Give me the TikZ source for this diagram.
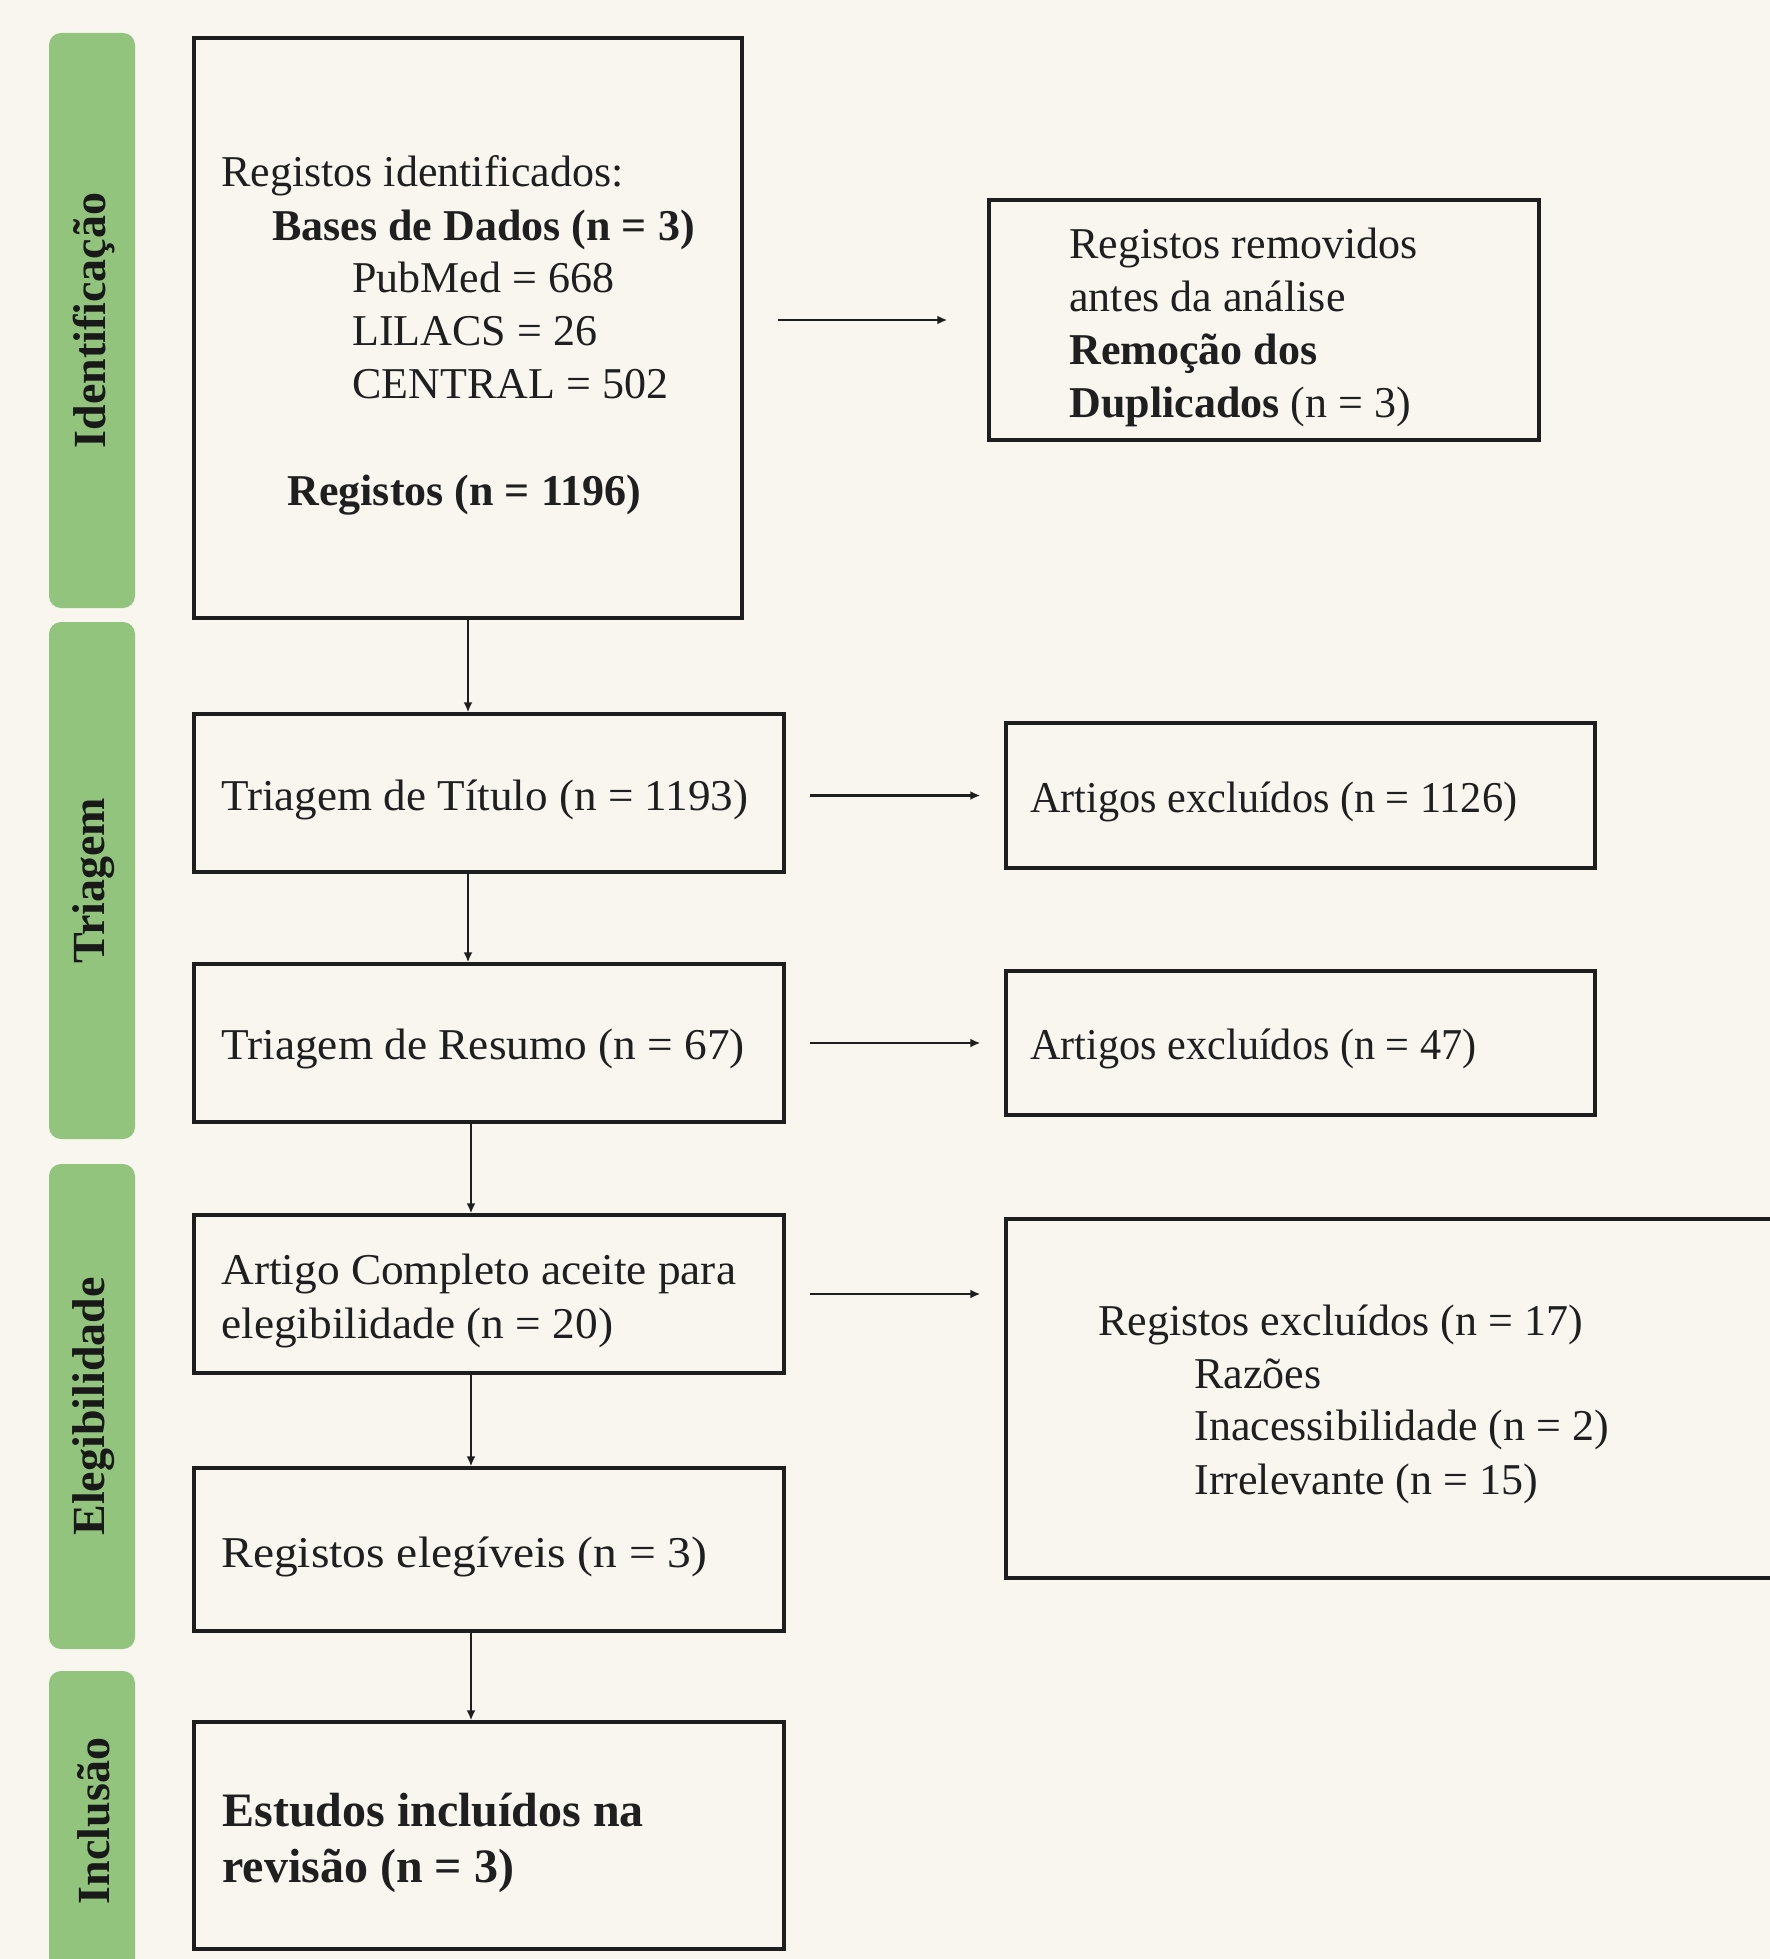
\documentclass[tikz,border=0pt]{standalone}
\usepackage{fontspec}
\usepackage{graphicx}
\setmainfont{Liberation Serif}
\usetikzlibrary{arrows.meta,calc}
\definecolor{bg}{HTML}{F8F6EE}
\definecolor{bargreen}{HTML}{92C47E}
\definecolor{edge}{HTML}{1E1E1E}
\begin{document}
\begin{tikzpicture}[x=0.5pt,y=-0.5pt,
  box/.style={draw=edge, line width=1.7pt, fill=bg, inner sep=0pt},
  bar/.style={fill=bargreen, rounded corners=6pt, inner sep=0pt, minimum width=43pt},
  lbl/.style={rotate=90, inner sep=0pt, font=\fontsize{23}{27}\selectfont\bfseries, text=black!90},
  txt/.style={anchor=base west, inner sep=0pt, font=\fontsize{22}{26.5}\selectfont, text=black!88},
  btxt/.style={txt, font=\fontsize{24}{28}\selectfont\bfseries},
  arr/.style={draw=edge, line width=1.3pt, -{Latex[length=5pt,width=4.5pt]}}]
\clip (0,0) rectangle (1770,1959);
\fill[bg] (0,0) rectangle (1770,1959);
% side bars
\node[bar, minimum height=287.5pt] (barI) at (92,320.5) {};
\node[bar, minimum height=258.5pt] (barT) at (92,880.5) {};
\node[bar, minimum height=242.5pt] (barE) at (92,1406.5) {};
\node[bar, minimum height=160pt] (barN) at (92,1831) {};
\node[lbl] (lblI) at ($(barI.center)+(2,0)$) {Identificação};
\node[lbl] (lblT) at ($(barT.center)+(2,0)$) {Triagem};
\node[lbl] (lblE) at ($(barE.center)+(2,0)$) {Elegibilidade};
\node[lbl] (lblN) at ($(barN.center)+(2,-10)$) {Inclusão};
% boxes
\node[box, minimum width=274pt, minimum height=290pt] (b1) at (468,328) {};
\node[box, minimum width=275pt, minimum height=120pt] (rem) at (1264,320) {};
\node[box, minimum width=295pt, minimum height=79pt] (t1) at (489,793) {};
\node[box, minimum width=294.5pt, minimum height=72.5pt] (ex1) at (1300.5,795.5) {};
\node[box, minimum width=295pt, minimum height=79pt] (r1) at (489,1043) {};
\node[box, minimum width=294.5pt, minimum height=72pt] (ex2) at (1300.5,1043) {};
\node[box, minimum width=295pt, minimum height=79pt] (art) at (489,1294) {};
\node[box, minimum width=397pt, minimum height=179.5pt] (rx) at (1403,1398.5) {};
\node[box, minimum width=295pt, minimum height=81.5pt] (el) at (489,1549.5) {};
\node[box, minimum width=295pt, minimum height=113.5pt] (inc) at (489,1835.5) {};
% texts box 1
\node[txt] (b1a) at (221,186) {Registos identificados:};
\node[txt, font=\fontsize{22}{26.5}\selectfont\bfseries] (b1b) at (272,240) {Bases de Dados (n = 3)};
\node[txt] (b1c) at (352,292) {PubMed = 668};
\node[txt] (b1d) at (352,345) {LILACS = 26};
\node[txt] (b1e) at (352,398) {CENTRAL = 502};
\node[txt, font=\fontsize{22}{26.5}\selectfont\bfseries] (b1f) at (287,505) {Registos (n = 1196)};
% removed box
\node[txt] (rema) at (1069,258.5) {Registos removidos};
\node[txt] (remb) at (1069,311.5) {antes da análise};
\node[txt] (remc) at (1069,364.5) {\bfseries Remoção dos};
\node[txt] (remd) at (1069,417.5) {\textbf{Duplicados} (n = 3)};
% screening
\node[txt] (t1a) at (221,810.5) {\scalebox{1.025}[1]{Triagem de Título (n = 1193)}};
\node[txt] (ex1a) at (1030,812.5) {\scalebox{0.96}[1]{Artigos excluídos (n = 1126)}};
\node[txt] (r1a) at (221,1059.5) {\scalebox{1.03}[1]{Triagem de Resumo (n = 67)}};
\node[txt] (ex2a) at (1030,1059.5) {\scalebox{0.96}[1]{Artigos excluídos (n = 47)}};
% eligibility
\node[txt] (arta) at (221,1284.5) {\scalebox{1.03}[1]{Artigo Completo aceite para}};
\node[txt] (artb) at (221,1338.5) {\scalebox{1.03}[1]{elegibilidade (n = 20)}};
\node[txt] (rxa) at (1098,1335.5) {Registos excluídos (n = 17)};
\node[txt] (rxb) at (1194,1388.5) {Razões};
\node[txt] (rxc) at (1194,1440.5) {Inacessibilidade (n = 2)};
\node[txt] (rxd) at (1194,1494.5) {Irrelevante (n = 15)};
\node[txt] (ela) at (221,1567.5) {\scalebox{1.08}[1]{Registos elegíveis (n = 3)}};
\node[btxt] (inca) at (222,1826) {Estudos incluídos na};
\node[btxt] (incb) at (222,1882) {revisão (n = 3)};
% horizontal arrows
\draw[arr] ($(b1.east |- rem.west)+(34,0)$) -- ($(rem.west)+(-40,0)$);
\draw[arr] ($(t1.east |- ex1.west)+(24,0)$) -- ($(ex1.west)+(-24,0)$);
\draw[arr] ($(r1.east |- ex2.west)+(24,0)$) -- ($(ex2.west)+(-24,0)$);
\draw[arr] ($(art.east)+(24,0)$) -- ($(art.east -| rx.west)+(-24,0)$);
% vertical arrows
\coordinate (vx) at (471,0);
\draw[arr] (b1.south) -- (b1.south |- t1.north);
\draw[arr] (t1.south -| b1.south) -- (r1.north -| b1.south);
\draw[arr] (r1.south -| vx) -- (art.north -| vx);
\draw[arr] (art.south -| vx) -- (el.north -| vx);
\draw[arr] (el.south -| vx) -- (inc.north -| vx);
\end{tikzpicture}
\end{document}
